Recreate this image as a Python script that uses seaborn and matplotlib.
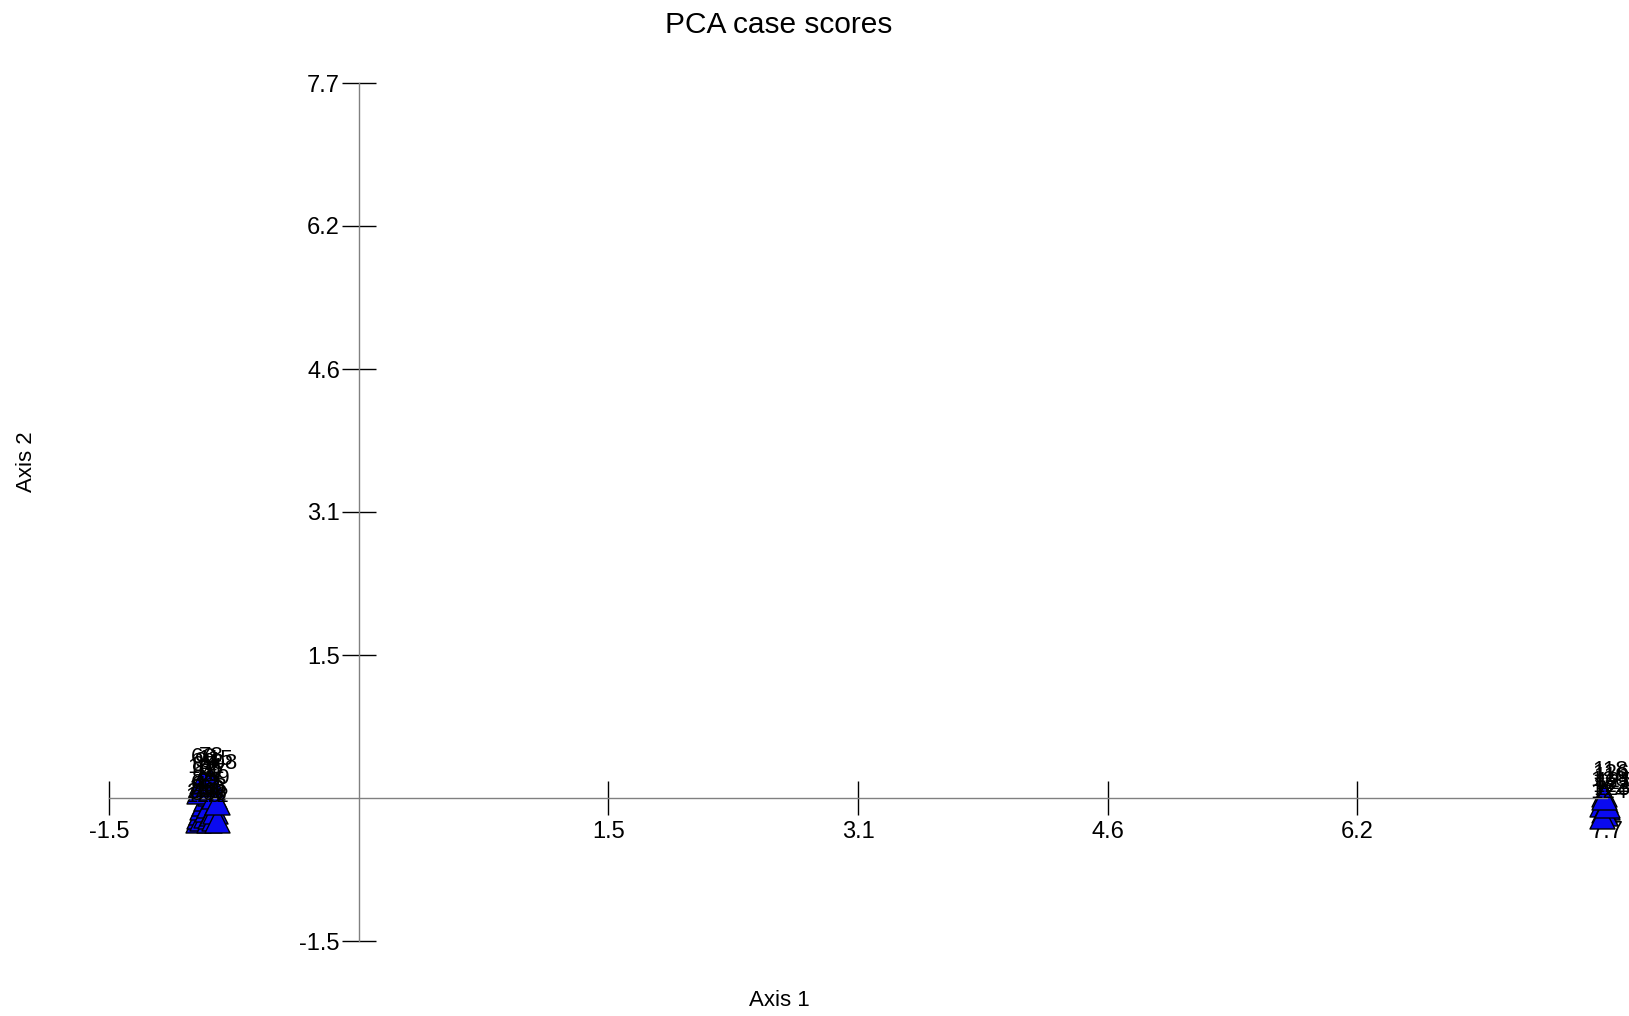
import matplotlib
matplotlib.use("Agg")
import matplotlib.pyplot as plt
import seaborn as sns
import pandas as pd

# ---- data -------------------------------------------------------------
left_ids = [1, 2, 3, 5, 6, 8, 11, 14, 17, 23, 29, 35, 41, 50, 56, 63, 72, 85, 94, 101,
            108, 115, 47, 59, 66, 78]
left_x = [-1.00, -0.99, -0.98, -0.97, -0.97, -0.96, -0.95, -0.95, -0.94, -0.93, -0.93,
          -0.92, -0.92, -0.91, -0.90, -0.89, -0.88, -0.96, -0.94, -0.99, -0.91, -0.93,
          -0.90, -0.88, -0.97, -0.92]
left_y = [-0.24, -0.20, -0.15, -0.22, -0.10, -0.05, -0.18, 0.00, -0.12, -0.24, -0.08,
          0.05, -0.20, -0.16, -0.22, -0.14, -0.24, 0.10, 0.14, 0.08, 0.12, 0.16,
          0.02, -0.04, 0.18, 0.20]

right_ids = [118, 119, 120, 121, 122, 123, 124, 125, 126]
right_x = [7.73, 7.74, 7.72, 7.75, 7.73, 7.74, 7.72, 7.75, 7.73]
right_y = [0.04, -0.02, -0.06, -0.10, -0.13, -0.16, -0.19, -0.08, 0.01]

tick_values = [-1.55, 1.55, 3.10, 4.65, 6.20, 7.75]
tick_labels = ["-1.5", "1.5", "3.1", "4.6", "6.2", "7.7"]
axis_min, axis_max = -1.55, 7.75

df = pd.DataFrame({
    "case": left_ids + right_ids,
    "Axis 1": left_x + right_x,
    "Axis 2": left_y + right_y,
})

# ---- figure -----------------------------------------------------------
sns.set_theme(style="white")
plt.rcParams["font.family"] = ["Liberation Sans", "DejaVu Sans"]
plt.rcParams["text.color"] = "black"
plt.rcParams["xtick.color"] = "black"
plt.rcParams["ytick.color"] = "black"

W, H = 1629, 1016
fig = plt.figure(figsize=(W / 100, H / 100), dpi=100)
ax = fig.add_axes([109 / W, (H - 941) / H, 1498 / W, 858 / H])
ax.set_facecolor("white")
ax.set_xlim(axis_min, axis_max)
ax.set_ylim(axis_min, axis_max)

sns.scatterplot(data=df, x="Axis 1", y="Axis 2", ax=ax, marker="^", s=324,
                color="#0a0af0", edgecolor="black", linewidth=1.0,
                clip_on=False, zorder=2, legend=False)

for cid, xv, yv in zip(df["case"], df["Axis 1"], df["Axis 2"]):
    ax.annotate(str(cid), (xv, yv), xytext=(-12, 13), textcoords="offset pixels",
                ha="left", va="bottom", fontsize=16, color="black",
                annotation_clip=False, zorder=3)

# axes crossing at zero
for side in ["top", "right"]:
    ax.spines[side].set_visible(False)
ax.spines["left"].set_position(("data", 0))
ax.spines["bottom"].set_position(("data", 0))
for side in ["left", "bottom"]:
    ax.spines[side].set_color("#808080")
    ax.spines[side].set_linewidth(1.0)

ax.set_xticks(tick_values)
ax.set_xticklabels(tick_labels)
ax.set_yticks(tick_values)
ax.set_yticklabels(tick_labels)
ax.tick_params(axis="both", direction="inout", length=25, width=1.0, color="black",
               labelsize=17, labelcolor="black")
ax.tick_params(axis="x", pad=4, bottom=True)
ax.tick_params(axis="y", pad=1, left=True)
ax.set_xlabel("")
ax.set_ylabel("")

fig.text(779 / W, 1 - 25 / H, "PCA case scores", ha="center", va="center", fontsize=21.5)
fig.text(779 / W, 1 - 1000 / H, "Axis 1", ha="center", va="center", fontsize=16)
fig.text(26 / W, 1 - 462 / H, "Axis 2", ha="center", va="center", fontsize=16, rotation=90)

fig.savefig("out.png", dpi=100, facecolor="white")
